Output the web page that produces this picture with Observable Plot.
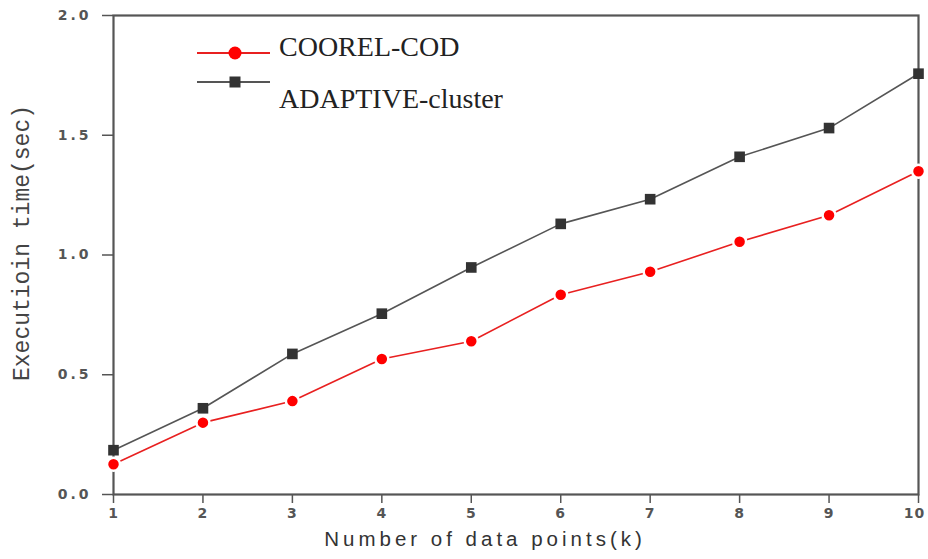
<!DOCTYPE html>
<html>
<head>
<meta charset="utf-8">
<script src="https://cdn.jsdelivr.net/npm/d3@7"></script>
<script src="https://cdn.jsdelivr.net/npm/@observablehq/plot@0.6"></script>
<style>
  html, body { margin: 0; padding: 0; background: #fff; }
  #wrap { position: relative; width: 928px; height: 559px; }
  #legend { position: absolute; left: 0; top: 0; pointer-events: none; }
</style>
</head>
<body>
<div id="wrap"></div>
<script>
const xValues = [1, 2, 3, 4, 5, 6, 7, 8, 9, 10];
const coorelCod = [0.126, 0.30, 0.39, 0.566, 0.64, 0.834, 0.93, 1.055, 1.166, 1.35];
const adaptiveCluster = [0.185, 0.36, 0.587, 0.755, 0.948, 1.13, 1.233, 1.41, 1.53, 1.757];
const seriesNames = ["COOREL-COD", "ADAPTIVE-cluster"];
const xTicks = [1, 2, 3, 4, 5, 6, 7, 8, 9, 10];
const yTicks = [0, 0.5, 1.0, 1.5, 2.0];
const xTitle = "Number of data points(k)";
const yTitle = "Executioin time(sec)";

const redRows = xValues.map((x, i) => ({x, y: coorelCod[i]}));
const blackRows = xValues.map((x, i) => ({x, y: adaptiveCluster[i]}));

const chart = Plot.plot({
  width: 928,
  height: 559,
  marginLeft: 113,
  marginRight: 10,
  marginTop: 15,
  marginBottom: 65,
  style: {background: "#fff", color: "#444"},
  x: {domain: [1, 10]},
  y: {domain: [0, 2]},
  marks: [
    Plot.axisX({ticks: xTicks, tickSize: 9, tickPadding: 5, tickFormat: d => String(d),
      label: null, fontSize: 14, stroke: "#555", strokeWidth: 1.5}),
    Plot.axisY({ticks: yTicks, tickSize: 11, tickPadding: 11, tickFormat: d3.format(".1f"),
      label: null, fontSize: 14, stroke: "#555", strokeWidth: 1.5}),
    Plot.frame({stroke: "#555", strokeWidth: 2.2}),
    Plot.line(blackRows, {x: "x", y: "y", stroke: "#555", strokeWidth: 1.6}),
    Plot.line(redRows, {x: "x", y: "y", stroke: "#e82020", strokeWidth: 1.6}),
    Plot.dot(blackRows, {x: "x", y: "y", symbol: "square", r: 6, fill: "#333", stroke: "none"}),
    Plot.dot(redRows, {x: "x", y: "y", symbol: "circle", r: 6.5, fill: "#f00", stroke: "#fff", strokeWidth: 2.5}),
    Plot.text([xTitle], {frameAnchor: "bottom", dy: 51, dx: -31, fontSize: 20.5,
      fill: "#333", fontFamily: "Liberation Sans, Arial, sans-serif"}),
    Plot.text([yTitle], {frameAnchor: "left", textAnchor: "middle", rotate: -90, dx: -92, dy: -12, fontSize: 23,
      fill: "#444", fontFamily: "Liberation Mono, monospace"})
  ]
});

// typographic tweaks for the wide, spaced look of the original
const svg = d3.select(chart);
svg.selectAll('[aria-label="x-axis tick label"] text, [aria-label="y-axis tick label"] text')
  .style("font-family", "DejaVu Sans, sans-serif")
  .style("font-weight", "bold")
  .style("fill", "#555");
svg.selectAll('[aria-label="y-axis tick label"] text').style("letter-spacing", "3px");
svg.selectAll('[aria-label="x-axis tick label"] text').style("letter-spacing", "1px")
  .filter(function() { return this.textContent === String(xTicks[xTicks.length - 1]); })
  .attr("dx", -4);
svg.selectAll('[aria-label="text"] text').filter(function() { return this.textContent === xTitle; })
  .style("letter-spacing", "4px");

document.getElementById("wrap").appendChild(chart);

// legend overlay
const colors = ["#e82020", "#555"];
const markFill = ["#f00", "#333"];
const lg = d3.select("#wrap").append("svg").attr("id", "legend")
  .attr("width", 928).attr("height", 559);
const rows = [{lineY: 53, textY: 56}, {lineY: 82, textY: 108}];
seriesNames.forEach((name, i) => {
  const r = rows[i];
  lg.append("line").attr("x1", 197).attr("x2", 270).attr("y1", r.lineY).attr("y2", r.lineY)
    .attr("stroke", colors[i]).attr("stroke-width", 2);
  if (i === 0) {
    lg.append("circle").attr("cx", 235).attr("cy", r.lineY).attr("r", 6.5).attr("fill", markFill[i]);
  } else {
    lg.append("rect").attr("x", 229.5).attr("y", r.lineY - 5.5).attr("width", 11).attr("height", 11)
      .attr("fill", markFill[i]);
  }
  lg.append("text").attr("x", 279).attr("y", r.textY).text(name)
    .attr("font-family", "Liberation Serif, Times New Roman, serif").attr("font-size", 28)
    .attr("fill", "#222");
});
</script>
</body>
</html>
